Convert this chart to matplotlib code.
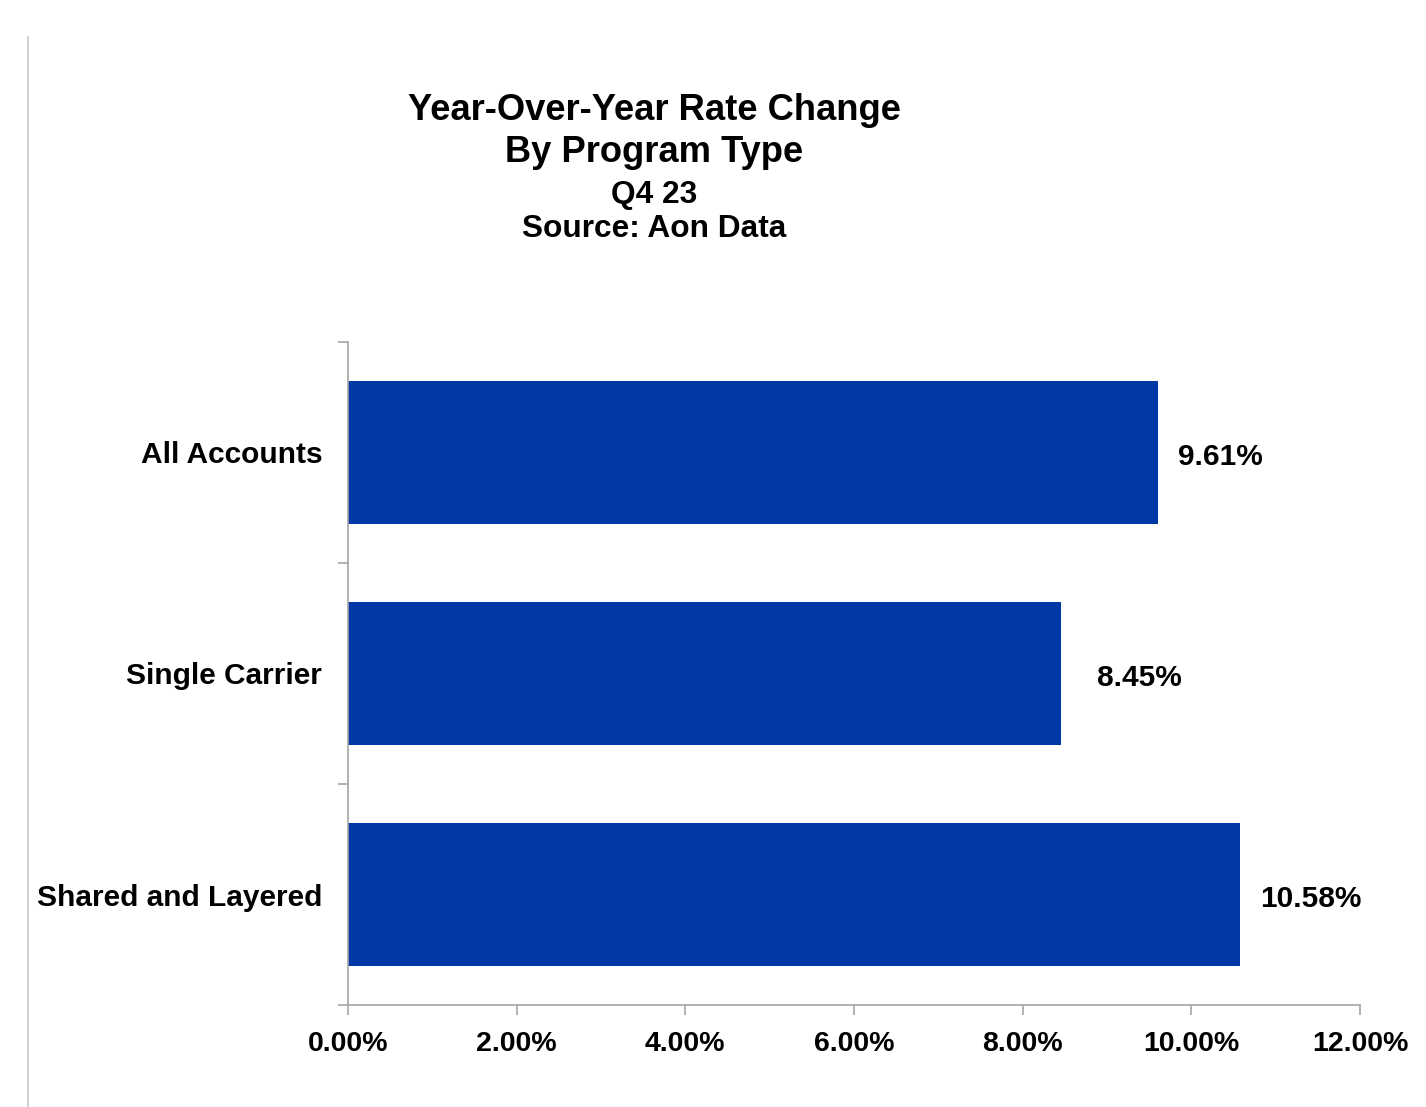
import matplotlib.pyplot as plt
from matplotlib.lines import Line2D
from matplotlib.ticker import FuncFormatter, FixedLocator

plt.rcParams['font.family'] = ['Liberation Sans', 'DejaVu Sans']
plt.rcParams['font.weight'] = 'bold'

# rate change by program type, in percent
categories = ["All Accounts", "Single Carrier", "Shared and Layered"]
rate_change = [9.61, 8.45, 10.58]
x_ticks = [0, 2, 4, 6, 8, 10, 12]

bar_color = "#0038A6"
axis_gray = "#a6a6a6"
# horizontal gap (points) between bar end and its label
label_gap = [14, 26, 14]

fig = plt.figure(figsize=(14.26, 11.07), dpi=100)
ax = fig.add_axes([0.2440, 0.0921, 0.7097, 0.5990])

y_pos = list(range(len(categories)))
ax.barh(y_pos, rate_change, height=0.65, color=bar_color)
ax.set_ylim(len(categories) - 0.5, -0.5)
ax.set_xlim(0, 12)

# value labels just past the end of each bar
for y, v, gap in zip(y_pos, rate_change, label_gap):
    ax.annotate(f"{v:.2f}%", xy=(v, y), xytext=(gap, -3.5), textcoords="offset points",
                ha="left", va="center", fontsize=21.5, fontweight="bold")

ax.set_yticks(y_pos)
ax.set_yticklabels(categories, fontsize=21.5, fontweight="bold")
ax.yaxis.set_minor_locator(FixedLocator([i - 0.5 for i in range(len(categories) + 1)]))
ax.tick_params(axis="y", which="major", length=0, pad=18.5)
ax.tick_params(axis="y", which="minor", length=7, width=1.2, color=axis_gray)

ax.set_xticks(x_ticks)
ax.xaxis.set_major_formatter(FuncFormatter(lambda v, p: f"{v:.2f}%"))
ax.tick_params(axis="x", length=7, width=1.2, color=axis_gray, labelsize=20.5, pad=12)
for lbl in ax.get_xticklabels():
    lbl.set_fontweight("bold")

for side in ("top", "right"):
    ax.spines[side].set_visible(False)
for side in ("left", "bottom"):
    ax.spines[side].set_color(axis_gray)
    ax.spines[side].set_linewidth(1.2)

# stacked title lines
cx = 0.4586
fig.text(cx, 0.8916, "Year-Over-Year Rate Change", ha="center", va="baseline",
         fontsize=26.2, fontweight="bold")
fig.text(cx, 0.8537, "By Program Type", ha="center", va="baseline",
         fontsize=26.2, fontweight="bold")
fig.text(cx, 0.8166, "Q4 23", ha="center", va="baseline",
         fontsize=22.8, fontweight="bold")
fig.text(cx, 0.7859, "Source: Aon Data", ha="center", va="baseline",
         fontsize=22.8, fontweight="bold")

# thin rule along the left edge
fig.add_artist(Line2D([0.0199, 0.0199], [0.0, 0.967], transform=fig.transFigure,
                      color="#c8c8c8", linewidth=1.2))

fig.savefig("out.png", dpi=100)
